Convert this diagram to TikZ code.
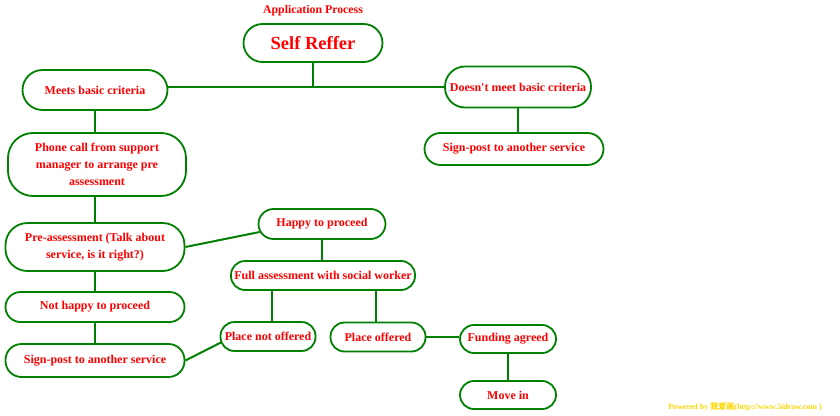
\documentclass[tikz,border=0pt]{standalone}
\usepackage{fontspec}
\setmainfont{Liberation Serif}
\newfontfamily\cjkf{Noto Sans CJK SC}
\usetikzlibrary{calc}
\definecolor{lg}{RGB}{0,128,0}
\definecolor{tr}{RGB}{255,0,0}
\definecolor{wm}{RGB}{255,215,0}
\begin{document}
\begin{tikzpicture}[x=1pt,y=-1pt,
  box/.style={draw=lg, line width=1.8pt, rounded corners=#1, fill=white, text=tr,
    font=\fontsize{12}{17}\selectfont\bfseries, align=center, inner sep=0pt},
  box/.default=14pt,
  conn/.style={draw=lg, line width=2pt}]
\useasboundingbox (0,0) rectangle (840,415);

\node[text=tr, font=\fontsize{11.8}{14}\selectfont\bfseries] (title) at (313,11) {Application Process};

\node[box=19pt, minimum width=139pt, minimum height=38pt, font=\fontsize{18.5}{20}\selectfont\bfseries] (self) at (313,43) {Self Reffer};
\node[box=20pt, minimum width=145pt, minimum height=40pt] (meets) at (95,90) {Meets basic criteria};
\node[box=20pt, minimum width=146pt, minimum height=41pt] (doesnt) at (518,87) {Doesn\textquotesingle t meet basic criteria};
\node[box=16pt, minimum width=179pt, minimum height=32pt] (signR) at (514,149) {Sign-post to another service};
\node[box=25pt, minimum width=178pt, minimum height=63pt] (phone) at (97,164.5) {Phone call from support\\manager to arrange pre\\assessment};
\node[box=22pt, minimum width=179pt, minimum height=48pt] (pre) at (95,247) {Pre-assessment (Talk about\\service, is it right?)};
\node[box=15pt, minimum width=127pt, minimum height=30pt] (happy) at (322,224) {Happy to proceed};
\node[box=14pt, minimum width=184pt, minimum height=29pt] (full) at (323,275.5) {Full assessment with social worker};
\node[box=15pt, minimum width=179pt, minimum height=30pt] (nothappy) at (95,307) {Not happy to proceed};
\node[box=16pt, minimum width=179pt, minimum height=33pt] (signL) at (95,360.5) {Sign-post to another service};
\node[box=14pt, minimum width=95pt, minimum height=29pt] (pno) at (268,336.5) {Place not offered};
\node[box=14pt, minimum width=95pt, minimum height=29pt] (po) at (378,337) {Place offered};
\node[box=14pt, minimum width=96pt, minimum height=28pt] (fund) at (508,339) {Funding agreed};
\node[box=14pt, minimum width=96pt, minimum height=28pt] (move) at (508,395) {Move in};

\node[text=wm, font=\fontsize{8}{9}\selectfont\bfseries] (wmark) at (745,407) {Powered by {\cjkf 我爱画}(http://www.5idraw.com )};

\draw[conn] (meets.east |- doesnt.west) -- (doesnt.west);
\draw[conn] (self.south) -- (self.south |- doesnt.west);
\draw[conn] (doesnt.south) -- (doesnt.south |- signR.north);
\draw[conn] (meets.south) -- (meets.south |- phone.north);
\draw[conn] (pre.north |- phone.south) -- (pre.north);
\draw[conn] (pre.south) -- (nothappy.north);
\draw[conn] (nothappy.south) -- (signL.north);
\draw[conn] (pre.east) -- ($(happy.west)+(2,8)$);
\draw[conn] (happy.south) -- (happy.south |- full.north);
\draw[conn] ([xshift=4pt]pno.north) -- ([xshift=4pt]pno.north |- full.south);
\draw[conn] ([xshift=-2pt]po.north) -- ([xshift=-2pt]po.north |- full.south);
\draw[conn] (signL.east) -- ($(pno.west)+(1.3,6)$);
\draw[conn] (po.east) -- (po.east -| fund.west);
\draw[conn] (fund.south) -- (move.north);
\end{tikzpicture}
\end{document}
